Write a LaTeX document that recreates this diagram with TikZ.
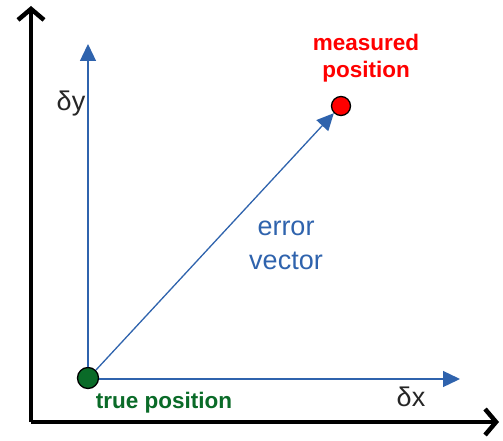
\documentclass[tikz,border=0pt]{standalone}
\usepackage{fontspec}
\setmainfont{Liberation Sans}
\usetikzlibrary{arrows.meta}
\definecolor{vblue}{HTML}{2F63AD}
\definecolor{tgreen}{HTML}{0A6B28}
\definecolor{mred}{HTML}{FF0000}
\tikzset{
  axis/.style={line width=4.5pt, -{Straight Barb[length=11pt,width=26pt,line width=4.5pt]}},
  vec/.style={vblue, line width=1.3pt, -{Triangle[length=17pt,width=16pt]}},
  dot/.style={circle, draw=black, line width=1.3pt, minimum size=19pt, inner sep=0pt},
  lbl/.style={font=\fontsize{27}{32}\selectfont, inner sep=0pt},
  blbl/.style={font=\fontsize{22.5}{27}\selectfont\bfseries, inner sep=0pt, align=center}
}
\begin{document}
\begin{tikzpicture}[x=1pt,y=-1pt]
\useasboundingbox (0,0) rectangle (503,441);
\coordinate (O) at (31,422);
\coordinate (Ytop) at (31,6);
\coordinate (Xend) at (499,422);
\draw[axis] (O) -- (Ytop);
\draw[axis] (O) -- (Xend);
\node[dot, fill=tgreen, minimum size=21pt] (tp) at (88,378) {};
\node[dot, fill=mred] (mp) at (341,106) {};
\coordinate (dy) at (88,44);
\coordinate (dx) at (460,379);
\draw[vec] (tp.north) -- (dy);
\draw[vec] (tp.east |- 0,379) -- (dx);
\draw[vec] (tp.north east) -- (mp.south west);
\node[lbl, text=black!85] (ldy) at (71,104) {δy};
\node[lbl, text=black!85] (ldx) at (411,397) {δx};
\node[lbl, text=vblue, align=center, font=\fontsize{27}{34}\selectfont] (ev) at (286,245) {error\\vector};
\node[blbl, text=mred] (lmp) at (366,58) {measured\\position};
\node[blbl, text=tgreen] (ltp) at (164,403) {true position};
\end{tikzpicture}
\end{document}
